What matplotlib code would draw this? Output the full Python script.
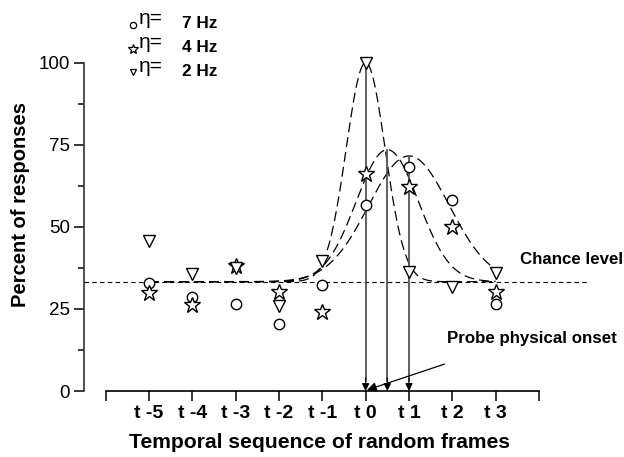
import numpy as np
import matplotlib.pyplot as plt

plt.rcParams['font.family'] = ['Liberation Sans', 'DejaVu Sans']

# frame positions (t -5 ... t 3)
frames = [-5, -4, -3, -2, -1, 0, 1, 2, 3]
tick_pos = [-6, -5, -4, -3, -2, -1, 0, 1, 2, 3, 4]
tick_labels = ['', 't -5', 't -4', 't -3', 't -2', 't -1', 't 0', 't 1', 't 2', 't 3', '']

# percent of responses per condition
resp_7hz = [32.8, 28.5, 26.4, 20.4, 32.3, 56.6, 68.2, 58.1, 26.5]
resp_4hz = [29.9, 26.2, 38.0, 30.2, 24.1, 66.0, 62.0, 50.0, 30.1]
resp_2hz = [45.7, 35.6, 37.5, 25.9, 39.7, 100.0, 36.2, 31.7, 35.9]

chance = 33.3

# gaussian fits: peak position, peak height, width  (7, 4, 2 Hz)
fit_peak_x = [1.0, 0.5, 0.0]
fit_peak_y = [71.6, 73.5, 100.0]
fit_width = [0.93, 0.72, 0.45]

fig = plt.figure(figsize=(6.24, 4.57), dpi=100)
ax = fig.add_axes([0.1346, 0.1444, 0.8125, 0.7184])
ax.set_xlim(-6.5, 5.2)
ax.set_ylim(0, 100)

# fitted curves
xs = np.linspace(-5, 3, 400)
for px, py, w in zip(fit_peak_x, fit_peak_y, fit_width):
    ys = chance + (py - chance) * np.exp(-(xs - px) ** 2 / (2 * w ** 2))
    ax.plot(xs, ys, color='black', lw=0.9, ls=(0, (8, 4)), clip_on=False)

# chance level
ax.plot([-6.5, 5.12], [chance, chance], color='black', lw=0.8, ls=(0, (4, 3)), clip_on=False)

# arrows from the peaks down to the axis
for px, py in zip(fit_peak_x, fit_peak_y):
    ax.plot([px, px], [py, 3], color='#555555', lw=1.3)
    ax.annotate('', xy=(px, 0), xytext=(px, 4),
                arrowprops=dict(arrowstyle='-|>', color='black', lw=0.8,
                                mutation_scale=11, shrinkA=0, shrinkB=0))

# data points
mk = dict(ls='none', mfc='white', mec='black', mew=1.0, clip_on=False, zorder=5)
ax.plot(frames, resp_7hz, marker='o', ms=7.5, **mk)
ax.plot(frames, resp_4hz, marker='*', ms=12, **mk)
ax.plot(frames, resp_2hz, marker='v', ms=9, **mk)

# annotations
ax.text(3.56, 40.2, 'Chance level', fontsize=12.2, fontweight='bold', va='center')
ax.text(1.87, 16.1, 'Probe physical onset', fontsize=12.2, fontweight='bold', va='center')
ax.annotate('', xy=(0.03, 0.3), xytext=(1.82, 8.2),
            arrowprops=dict(arrowstyle='-|>', color='black', lw=0.9,
                            mutation_scale=14, shrinkA=0, shrinkB=0))

# axes styling
for s in ['top', 'right']:
    ax.spines[s].set_visible(False)
ax.spines['left'].set_bounds(0, 100)
ax.spines['bottom'].set_bounds(-6, 4)
ax.spines['left'].set_linewidth(1.2)
ax.spines['bottom'].set_linewidth(1.2)
ax.spines['left'].set_color('#333333')

ax.set_yticks([0, 25, 50, 75, 100])
ax.set_yticks([12.5, 37.5, 62.5, 87.5], minor=True)
ax.set_xticks(tick_pos)
ax.set_xticklabels(tick_labels, fontweight='bold', fontsize=14)
ax.tick_params(axis='y', which='major', length=7, width=1.1, labelsize=13.5, pad=3)
ax.tick_params(axis='y', which='minor', length=4, width=1.1)
ax.tick_params(axis='x', length=7, width=1.1, pad=3)

ax.set_xlabel('Temporal sequence of random frames', fontsize=15.2, fontweight='bold')
ax.xaxis.set_label_coords(0.465, -0.128)
ax.set_ylabel('Percent of responses', fontsize=14.5, fontweight='bold')
ax.yaxis.set_label_coords(-0.107, 0.567)

# legend
leg_rows = [('o', 4.5, '7 Hz'), ('*', 7.5, '4 Hz'), ('v', 5, '2 Hz')]
for i, (m, size, lab) in enumerate(leg_rows):
    yf = 1 - (25 + 23.5 * i) / 457
    ax.plot([133 / 624], [yf], marker=m, ms=size, mfc='white', mec='black', mew=0.9,
            transform=fig.transFigure, clip_on=False)
    fig.text(139 / 624, yf + 6 / 457, '\u03b7=', fontsize=15, va='center')
    fig.text(182 / 624, yf + 1 / 457, lab, fontsize=12.4, fontweight='bold', va='center')

fig.savefig('out.png', dpi=100)
